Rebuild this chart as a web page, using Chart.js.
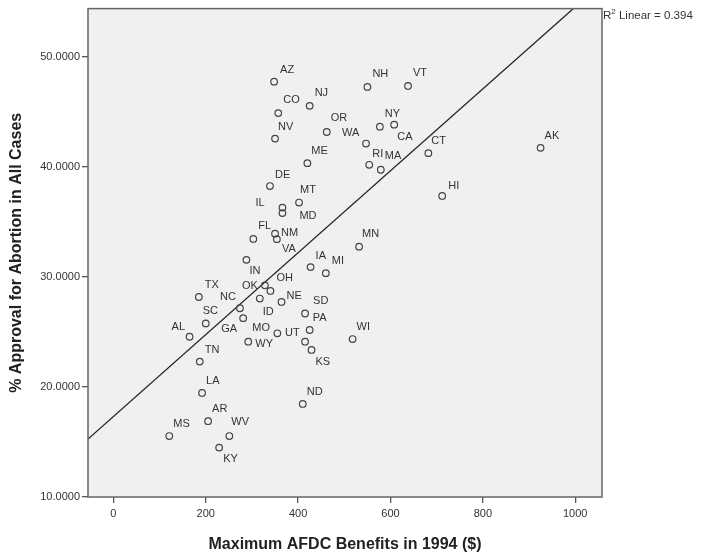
<!DOCTYPE html>
<html>
<head>
<meta charset="utf-8">
<script src="https://cdn.jsdelivr.net/npm/chart.js@4.4.1/dist/chart.umd.min.js"></script>
<style>
html, body { margin: 0; padding: 0; background: #fff; }
#wrap { width: 701px; height: 552px; }
</style>
</head>
<body>
<div id="wrap"><canvas id="chart" width="701" height="552"></canvas></div>
<script>
// values
const states = ['AZ', 'CO', 'NV', 'NJ', 'NH', 'VT', 'OR', 'NY', 'CA', 'WA',
    'CT', 'ME', 'RI', 'MA', 'AK', 'DE', 'IL', 'MD', 'MT', 'FL',
    'NM', 'VA', 'IN', 'HI', 'MN', 'IA', 'MI', 'TX', 'NC', 'OK',
    'OH', 'ID', 'NE', 'SC', 'GA', 'AL', 'MO', 'WY', 'UT', 'SD',
    'PA', 'KS', 'TN', 'LA', 'AR', 'MS', 'WV', 'KY', 'ND', 'WI'];
const afdcBenefits = [348, 357, 350, 425, 550, 638, 462, 577, 608, 547,
    682, 420, 554, 579, 925, 339, 366, 366, 402, 303,
    350, 354, 288, 712, 532, 427, 460, 185, 274, 328,
    340, 317, 364, 200, 281, 165, 355, 292, 415, 415,
    425, 429, 187, 192, 205, 121, 251, 229, 410, 518];
const approval = [47.76, 44.90, 42.58, 45.56, 47.28, 47.37, 43.18, 43.67, 43.85, 42.13,
    41.26, 40.35, 40.20, 39.75, 41.74, 38.27, 36.31, 35.81, 36.77, 33.46,
    33.94, 33.44, 31.56, 37.37, 32.76, 30.90, 30.35, 28.18, 27.16, 29.24,
    28.73, 28.04, 27.73, 25.78, 26.26, 24.57, 24.88, 24.12, 24.12, 26.68,
    25.18, 23.37, 22.31, 19.46, 16.89, 15.54, 15.54, 14.49, 18.46, 24.36];
const xTickValues = [0, 200, 400, 600, 800, 1000];
const yTickValues = [10, 20, 30, 40, 50];
const fitR2 = 0.394;

// where each state label sits relative to its marker (px: left edge, middle)
const labelOffsets = {
    AZ: [6, -12], CO: [5, -13], NV: [3, -12], NJ: [5, -13], NH: [5, -13],
    VT: [5, -13], OR: [4, -14], NY: [5, -13], CA: [3, 12], WA: [-24, -11],
    CT: [3, -12], ME: [4, -12], RI: [3, -11], MA: [4, -14], AK: [4, -12],
    DE: [5, -11], IL: [-27, -5], MD: [17, 3], MT: [1, -13], FL: [5, -13],
    NM: [6, -1], VA: [5, 10], IN: [3, 11], HI: [6, -10], MN: [3, -13],
    IA: [5, -11], MI: [6, -12], TX: [6, -12], NC: [-20, -11], OK: [-23, 1],
    OH: [6, -13], ID: [3, 13], NE: [5, -6], SC: [-3, -12], GA: [-22, 11],
    AL: [-18, -10], MO: [-25, -5], WY: [7, 2], UT: [-20, -9], SD: [8, -13],
    PA: [3, -12], KS: [4, 12], TN: [5, -12], LA: [4, -12], AR: [4, -12],
    MS: [4, -12], WV: [2, -14], KY: [4, 11], ND: [4, -12], WI: [4, -12]
};

const X_MIN = -55, X_MAX = 1058, Y_MIN = 10, Y_MAX = 54.4;
const FONT = "'Liberation Sans', Arial, sans-serif";

// least squares fit
const n = afdcBenefits.length;
let sx = 0, sy = 0, sxx = 0, sxy = 0;
for (let i = 0; i < n; i++) {
    sx += afdcBenefits[i];
    sy += approval[i];
    sxx += afdcBenefits[i] * afdcBenefits[i];
    sxy += afdcBenefits[i] * approval[i];
}
const slope = (n * sxy - sx * sy) / (n * sxx - sx * sx);
const intercept = (sy - slope * sx) / n;

const points = afdcBenefits.map((x, i) => ({ x: x, y: approval[i], label: states[i] }));

const plotBackground = {
    id: 'plotBackground',
    beforeDraw(chart) {
        const a = chart.chartArea, ctx = chart.ctx;
        ctx.save();
        ctx.fillStyle = '#f0f0f0';
        ctx.fillRect(a.left, a.top, a.right - a.left, a.bottom - a.top);
        ctx.restore();
    },
    afterDraw(chart) {
        const a = chart.chartArea, ctx = chart.ctx;
        ctx.save();
        ctx.strokeStyle = '#666';
        ctx.lineWidth = 1.5;
        ctx.strokeRect(a.left, a.top, a.right - a.left, a.bottom - a.top);

        // axis titles
        ctx.fillStyle = '#222';
        ctx.font = 'bold 16px ' + FONT;
        ctx.textAlign = 'center';
        ctx.textBaseline = 'middle';
        ctx.fillText('Maximum AFDC Benefits in 1994 ($)', (a.left + a.right) / 2, 545);
        ctx.translate(17, (a.top + a.bottom) / 2);
        ctx.rotate(-Math.PI / 2);
        ctx.fillText('% Approval for Abortion in All Cases', 0, 0);
        ctx.restore();

        // fit note
        ctx.save();
        ctx.fillStyle = '#333';
        ctx.textBaseline = 'middle';
        ctx.textAlign = 'left';
        ctx.font = '11.5px ' + FONT;
        let x = a.right + 1;
        ctx.fillText('R', x, 16);
        x += ctx.measureText('R').width;
        ctx.font = '8px ' + FONT;
        ctx.fillText('2', x, 12);
        x += ctx.measureText('2').width;
        ctx.font = '11.5px ' + FONT;
        ctx.fillText(' Linear = ' + fitR2.toFixed(3), x, 16);
        ctx.restore();
    }
};

const stateLabels = {
    id: 'stateLabels',
    afterDatasetsDraw(chart) {
        const ctx = chart.ctx;
        const meta = chart.getDatasetMeta(0);
        ctx.save();
        ctx.font = '11px ' + FONT;
        ctx.fillStyle = '#333';
        ctx.textAlign = 'left';
        ctx.textBaseline = 'middle';
        meta.data.forEach((el, i) => {
            const name = points[i].label;
            const off = labelOffsets[name] || [5, -12];
            ctx.fillText(name, el.x + off[0], el.y + off[1]);
        });
        ctx.restore();
    }
};

new Chart(document.getElementById('chart'), {
    type: 'scatter',
    data: {
        datasets: [{
            data: points,
            pointStyle: 'circle',
            pointRadius: 3.3,
            pointBorderWidth: 1.2,
            borderColor: '#444',
            backgroundColor: 'rgba(0,0,0,0)'
        }, {
            type: 'line',
            data: [
                { x: X_MIN, y: intercept + slope * X_MIN },
                { x: X_MAX, y: intercept + slope * X_MAX }
            ],
            borderColor: '#222',
            borderWidth: 1.3,
            pointRadius: 0,
            fill: false
        }]
    },
    options: {
        responsive: false,
        devicePixelRatio: 1,
        animation: false,
        events: [],
        layout: { padding: { top: 7, right: 99, left: 0, bottom: 0 } },
        plugins: {
            legend: { display: false },
            tooltip: { enabled: false }
        },
        scales: {
            x: {
                type: 'linear',
                min: X_MIN,
                max: X_MAX,
                afterBuildTicks: s => { s.ticks = xTickValues.map(v => ({ value: v })); },
                afterFit: s => { s.height = 55; },
                border: { display: false },
                grid: { drawOnChartArea: false, drawTicks: true, tickLength: 6, color: '#555', lineWidth: 1.3 },
                ticks: {
                    padding: 4,
                    color: '#333',
                    font: { family: FONT, size: 11 },
                    maxRotation: 0,
                    callback: v => String(v)
                }
            },
            y: {
                type: 'linear',
                min: Y_MIN,
                max: Y_MAX,
                afterBuildTicks: s => { s.ticks = yTickValues.map(v => ({ value: v })); },
                afterFit: s => { s.width = 88; },
                border: { display: false },
                grid: { drawOnChartArea: false, drawTicks: true, tickLength: 6, color: '#555', lineWidth: 1.3 },
                ticks: {
                    padding: 2,
                    color: '#333',
                    font: { family: FONT, size: 11 },
                    callback: v => Number(v).toFixed(4)
                }
            }
        }
    },
    plugins: [plotBackground, stateLabels]
});
</script>
</body>
</html>
